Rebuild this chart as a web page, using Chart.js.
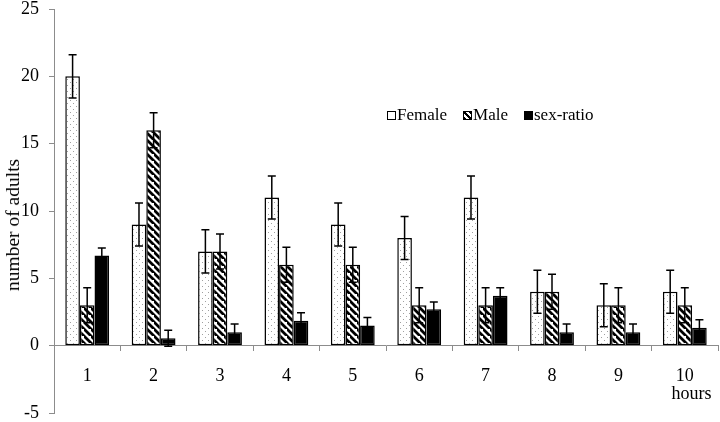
<!DOCTYPE html>
<html lang="en">
<head>
  <meta charset="UTF-8">
  <title>Number of adults per hour</title>
  <style>
    body { margin: 0; background: #fff; font-family: "Liberation Serif", serif; color: #000; }
    #wrap { position: relative; width: 720px; height: 422px; }
    #legend { position: absolute; left: 387px; top: 105px; display: flex; gap: 16px; font-size: 17px; white-space: nowrap; }
    #legend span.item { display: flex; align-items: center; gap: 1px; }
    #legend span.box { display: inline-block; width: 7px; height: 7px; border: 1.5px solid #000; }
    #ytitle { position: absolute; left: 13px; top: 225px; transform: translate(-50%, -50%) rotate(-90deg); font-size: 19.5px; white-space: nowrap; }
  </style>
</head>
<body>
  <div id="wrap">
    <canvas id="chart"></canvas>
    <div id="ytitle">number of adults</div>
    <div id="legend">
      <span class="item"><span class="box" style="background:#fff"></span>Female</span>
      <span class="item"><span class="box" style="background:repeating-linear-gradient(45deg,#000 0 2px,#fff 2px 4px)"></span>Male</span>
      <span class="item"><span class="box" style="background:#000"></span>sex-ratio</span>
    </div>
  </div>

  <script src="https://cdnjs.cloudflare.com/ajax/libs/Chart.js/4.4.1/chart.umd.js"></script>
  <script>
    const hours = ['1', '2', '3', '4', '5', '6', '7', '8', '9', ['10', '   hours']];
    const female = [20, 9, 7, 11, 9, 8, 11, 4, 3, 4];
    const male = [3, 16, 7, 6, 6, 3, 3, 4, 3, 3];
    const sexRatio = [6.7, 0.55, 1, 1.85, 1.5, 2.7, 3.7, 1, 1, 1.33];
    const femaleErr = [1.6, 1.6, 1.6, 1.6, 1.6, 1.6, 1.6, 1.6, 1.6, 1.6];
    const maleErr = [1.3, 1.3, 1.3, 1.3, 1.3, 1.3, 1.3, 1.3, 1.3, 1.3];
    const ratioErr = [0.55, 0.6, 0.6, 0.6, 0.6, 0.55, 0.6, 0.6, 0.6, 0.6];
    const yTicks = [-5, 0, 5, 10, 15, 20, 25];

    function dotPattern() {
      const c = document.createElement('canvas');
      c.width = 6; c.height = 6;
      const g = c.getContext('2d');
      g.fillStyle = '#fff';
      g.fillRect(0, 0, 6, 6);
      g.fillStyle = '#a0a0a0';
      g.fillRect(1, 1, 1, 1);
      g.fillRect(4, 4, 1, 1);
      return g.createPattern(c, 'repeat');
    }

    function stripePattern() {
      const s = 7;
      const c = document.createElement('canvas');
      c.width = s; c.height = s;
      const g = c.getContext('2d');
      g.fillStyle = '#fff';
      g.fillRect(0, 0, s, s);
      g.strokeStyle = '#000';
      g.lineWidth = 2.8;
      g.beginPath();
      g.moveTo(-1, -1); g.lineTo(s + 1, s + 1);
      g.moveTo(-s - 1, -1); g.lineTo(1, s + 1);
      g.moveTo(s - 1, -s - 1); g.lineTo(2 * s + 1, s + 1);
      g.stroke();
      return g.createPattern(c, 'repeat');
    }

    const errorBars = {
      id: 'errorBars',
      afterDatasetsDraw(chart) {
        const ctx = chart.ctx;
        const y = chart.scales.y;
        ctx.save();
        ctx.strokeStyle = '#000';
        ctx.lineWidth = 1.5;
        chart.data.datasets.forEach((ds, di) => {
          const meta = chart.getDatasetMeta(di);
          meta.data.forEach((bar, i) => {
            const v = ds.data[i], e = ds.errors[i];
            const top = y.getPixelForValue(v + e);
            const bot = y.getPixelForValue(v - e);
            ctx.beginPath();
            ctx.moveTo(bar.x, top); ctx.lineTo(bar.x, bot);
            ctx.moveTo(bar.x - 4, top); ctx.lineTo(bar.x + 4, top);
            ctx.moveTo(bar.x - 4, bot); ctx.lineTo(bar.x + 4, bot);
            ctx.stroke();
          });
        });
        ctx.restore();
      }
    };

    const font = { family: '"Liberation Serif", serif', size: 18, lineHeight: 1 };

    new Chart(document.getElementById('chart'), {
      type: 'bar',
      data: {
        labels: hours,
        datasets: [
          { label: 'Female', data: female, errors: femaleErr, backgroundColor: dotPattern() },
          { label: 'Male', data: male, errors: maleErr, backgroundColor: stripePattern() },
          { label: 'sex-ratio', data: sexRatio, errors: ratioErr, backgroundColor: '#000' }
        ].map(d => Object.assign(d, {
          borderColor: '#000',
          borderWidth: 1.5,
          borderSkipped: false,
          categoryPercentage: 0.66,
          barPercentage: 1
        }))
      },
      options: {
        responsive: true,
        maintainAspectRatio: false,
        animation: false,
        layout: { padding: { left: 0, right: 2, top: 9, bottom: 9 } },
        plugins: { legend: { display: false }, tooltip: { enabled: false } },
        scales: {
          x: {
            position: { y: 0 },
            afterFit: s => { s.paddingLeft = 0; s.paddingRight = 0; },
            grid: { drawOnChartArea: false, tickLength: 5, color: '#8c8c8c', offset: true },
            border: { color: '#8c8c8c', width: 1 },
            ticks: { color: '#000', font, padding: 17, maxRotation: 0 }
          },
          y: {
            min: -5,
            max: 25,
            afterFit: s => { s.width = 54; s.paddingTop = 0; s.paddingBottom = 0; },
            afterBuildTicks: s => { s.ticks = yTicks.map(v => ({ value: v })); },
            grid: { drawOnChartArea: false, tickLength: 5, color: '#8c8c8c' },
            border: { color: '#8c8c8c', width: 1 },
            ticks: { color: '#000', font, padding: 10 }
          }
        }
      },
      plugins: [errorBars]
    });
  </script>
</body>
</html>
